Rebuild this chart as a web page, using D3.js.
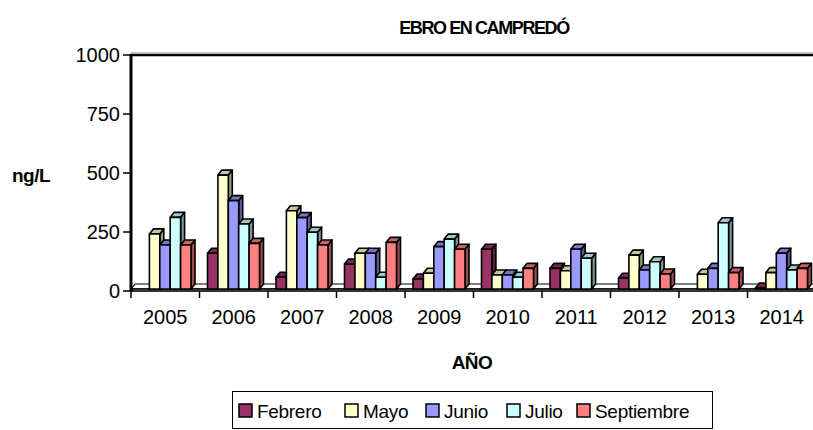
<!DOCTYPE html>
<html><head><meta charset="utf-8">
<script src="https://cdn.jsdelivr.net/npm/d3@7"></script>
<style>body{margin:0;background:#fff;overflow:hidden} text{font-family:"Liberation Sans",Arial,sans-serif;fill:#000}</style>
</head><body><svg id="c" width="813" height="430"></svg>
<script>
// ---- data ----
const years = ["2005","2006","2007","2008","2009","2010","2011","2012","2013","2014"];
const seriesNames = ["Febrero","Mayo","Junio","Julio","Septiembre"];
const febrero    = [null,160, 58,114, 51,177, 96, 54,null,  6];
const mayo       = [242, 491,340,160, 75, 68, 86,152, 71, 78];
const junio      = [195, 383,311,160,188, 68,177, 89, 96,160];
const julio      = [312, 284,249, 58,220, 58,139,124,289, 89];
const septiembre = [195, 202,195,206,177, 96,null,72, 78, 96];
const yTickValues = [0,250,500,750,1000];
const colors = ["#993366","#FFFFCC","#9999FF","#CCFFFF","#FF8080"];
const title = "EBRO EN CAMPREDÓ";
const yTitle = "ng/L";
const xTitle = "AÑO";

const values = [febrero, mayo, junio, julio, septiembre];

const svg = d3.select("#c");
const x0 = d3.scaleBand().domain(years).range([131, 816]);
const x1 = d3.scaleBand().domain(seriesNames).range([8, 60]);
const y = d3.scaleLinear().domain([0, 1000]).range([291, 55]);
const dx = 4, dy = 5;
const yb = y(0) - 2;

function shade(c, k){ const r = d3.rgb(c); return d3.rgb(r.r*k, r.g*k, r.b*k).formatHex(); }

// title
svg.append("text").attr("x", 484).attr("y", 34).attr("text-anchor","middle")
  .attr("font-size", 18).attr("font-weight","bold").attr("letter-spacing", -1.4).text(title);

// top frame line
svg.append("line").attr("x1",131).attr("x2",813).attr("y1",52.5).attr("y2",52.5).attr("stroke","#bbb").attr("stroke-width",1);
svg.append("line").attr("x1",130).attr("x2",813).attr("y1",55).attr("y2",55).attr("stroke","#000").attr("stroke-width",2.5);

// floor
const fx0 = x0.range()[0], fx1 = x0.range()[1];
svg.append("polygon").attr("points", [[fx0,yb],[fx0+dx,yb-dy],[fx1+dx,yb-dy],[fx1,yb]].join(" "))
  .attr("fill","#fff").attr("stroke","#000").attr("stroke-width",1.2);
svg.append("rect").attr("x",fx0).attr("y",yb).attr("width",fx1-fx0).attr("height",y(0)-yb)
  .attr("fill","#fff").attr("stroke","#000").attr("stroke-width",1.6);

// bars
const g = svg.append("g");
years.forEach((yr, i) => {
  seriesNames.forEach((s, j) => {
    const v = values[j][i];
    if (v == null) return;
    const x = x0(yr) + x1(s), w = x1.bandwidth();
    const yt = Math.min(y(v), yb - 1);
    const c = colors[j];
    const bg = g.append("g").attr("stroke","#000").attr("stroke-width",1.6).attr("stroke-linejoin","round");
    bg.append("polygon").attr("points", [[x+w,yt],[x+w+dx,yt-dy],[x+w+dx,yb-dy],[x+w,yb]].join(" ")).attr("fill", shade(c,0.6));
    bg.append("polygon").attr("points", [[x,yt],[x+dx,yt-dy],[x+w+dx,yt-dy],[x+w,yt]].join(" ")).attr("fill", shade(c,0.78));
    bg.append("rect").attr("x",x).attr("y",yt).attr("width",w).attr("height",yb-yt).attr("fill",c);
  });
});

// y axis
svg.append("line").attr("x1",131).attr("x2",131).attr("y1",54).attr("y2",292).attr("stroke","#000").attr("stroke-width",3);
yTickValues.forEach(t => {
  svg.append("line").attr("x1",123).attr("x2",131).attr("y1",y(t)).attr("y2",y(t)).attr("stroke","#000").attr("stroke-width",1.5);
  svg.append("text").attr("x",120).attr("y",y(t)).attr("dy","0.35em").attr("text-anchor","end").attr("font-size",20).text(t);
});
// x axis ticks
const bounds = years.map(d => x0(d)).concat([x0.range()[1]]);
bounds.forEach(b => {
  svg.append("line").attr("x1",b).attr("x2",b).attr("y1",291).attr("y2",298).attr("stroke","#000").attr("stroke-width",1.5);
});
years.forEach(yr => {
  svg.append("text").attr("x", x0(yr)+x0.bandwidth()/2).attr("y", 317).attr("dy","0.35em")
    .attr("text-anchor","middle").attr("font-size",20).text(yr);
});

// axis titles
svg.append("text").attr("x",12).attr("y",175).attr("dy","0.35em").attr("font-size",19).attr("font-weight","bold").attr("letter-spacing",-0.5).text(yTitle);
svg.append("text").attr("x",472).attr("y",362).attr("dy","0.35em").attr("text-anchor","middle").attr("font-size",19).attr("font-weight","bold").attr("letter-spacing",-0.5).text(xTitle);

// legend
svg.append("rect").attr("x",232.5).attr("y",391.5).attr("width",480).attr("height",37).attr("fill","#fff").attr("stroke","#000").attr("stroke-width",1);
const legendX = [239,345,426,507,577];
seriesNames.forEach((s, j) => {
  const lx = legendX[j];
  svg.append("rect").attr("x",lx).attr("y",404).attr("width",13).attr("height",13).attr("fill",colors[j]).attr("stroke","#000").attr("stroke-width",1.5);
  svg.append("text").attr("x",lx+18).attr("y",411).attr("dy","0.35em").attr("font-size",19).attr("letter-spacing",-0.3).text(s);
});
</script></body></html>
